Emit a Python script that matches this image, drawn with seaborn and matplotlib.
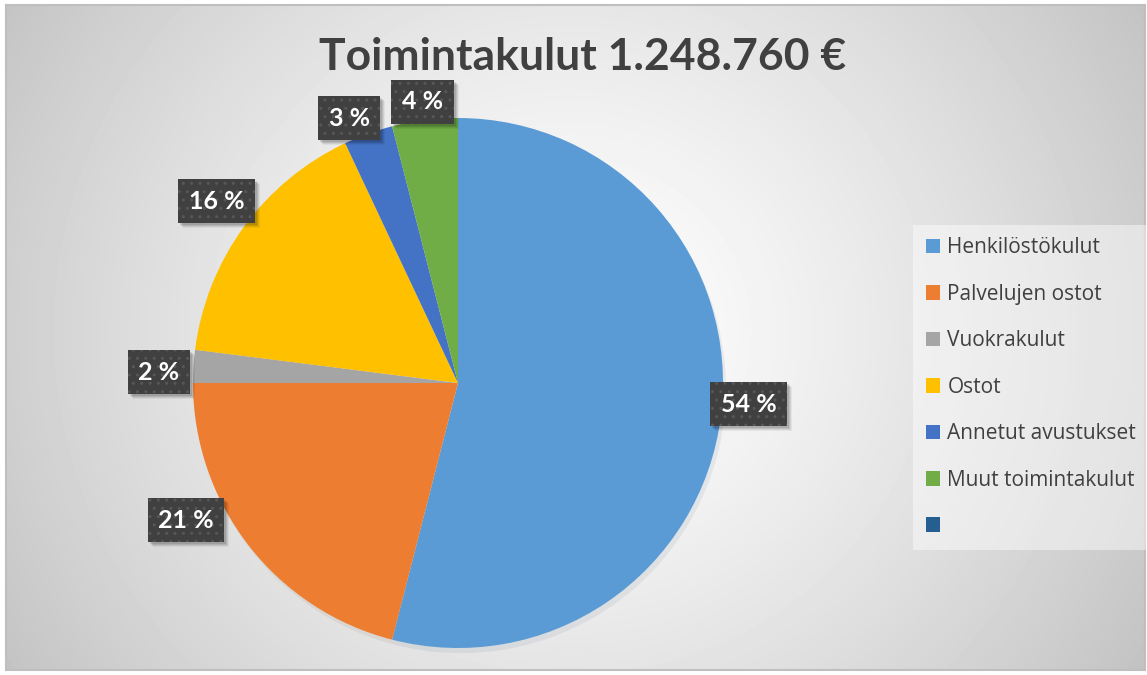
import numpy as np
import matplotlib
matplotlib.use("Agg")
import matplotlib.pyplot as plt
from matplotlib.patches import Patch, Rectangle
import seaborn as sns

# ---data---
categories = ["Henkilöstökulut", "Palvelujen ostot", "Vuokrakulut", "Ostot",
              "Annetut avustukset", "Muut toimintakulut"]
shares = [54, 21, 2, 16, 3, 4]
title = "Toimintakulut 1.248.760 €"
colors = ["#5B9BD5", "#ED7D31", "#A5A5A5", "#FFC000", "#4472C4", "#70AD47"]
extra_color = "#255E91"  # empty 7th legend entry

sns.set_theme(style="white")
plt.rcParams["font.family"] = ["Lato", "DejaVu Sans"]

W, H = 1147, 675
fig = plt.figure(figsize=(W / 100, H / 100), dpi=100)
fig.patch.set_facecolor("white")

# ---background with radial gradient inside the frame---
fl, ft, fr, fb = 6, 5, 1145, 670
bg = fig.add_axes([fl / W, 1 - fb / H, (fr - fl) / W, (fb - ft) / H])
yy, xx = np.mgrid[ft:fb, fl:fr]
d = np.hypot(xx - 570, (yy - 330) * 1.05) / 680
shade = 1 - 0.24 * d ** 1.3
bg.imshow(shade, cmap="gray", vmin=0, vmax=1, aspect="auto", interpolation="bilinear")
bg.set_xticks([])
bg.set_yticks([])
for s in bg.spines.values():
    s.set_color("#bfbfbf")
    s.set_linewidth(1.5)

# ---pie---
cx, cy, R = 458, 383, 265
L = 1.25
S = 2 * L * R
ax = fig.add_axes([(cx - S / 2) / W, 1 - (cy + S / 2) / H, S / W, S / H])
wedges, _ = ax.pie(shares, colors=colors, startangle=90, counterclock=False,
                   wedgeprops=dict(linewidth=0),
                   shadow=dict(ox=0.008, oy=-0.014, shade=0.5, alpha=0.08))
ax.set_xlim(-L, L)
ax.set_ylim(-L, L)
ax.set_aspect("equal")
ax.axis("off")

# data labels (Excel best-fit placement)
lab_r = [1.10, 1.15, 1.13, 1.14, 1.08, 1.07]
lab_da = [3, -11, 1.5, -1, 2.5, 0]
label_texts = []
for w, v, r, da in zip(wedges, shares, lab_r, lab_da):
    ang = np.deg2rad((w.theta1 + w.theta2) / 2 + da)
    t = ax.text(r * np.cos(ang), r * np.sin(ang), f"{v} %", ha="center", va="center",
                color="white", fontsize=18, fontweight="bold", zorder=5,
                bbox=dict(boxstyle="square,pad=0.42", fc="#404040", ec="#575757",
                          lw=0, hatch=".."))
    label_texts.append(t)

# ---title---
fig.text(583 / W, 1 - 57 / H, title, ha="center", va="center",
         fontsize=32, fontweight="bold", color="#404040")

# ---legend---
handles = [Patch(facecolor=c, edgecolor="none") for c in colors + [extra_color]]
labels = categories + [""]
leg = fig.legend(handles, labels, loc="upper left",
                 bbox_to_anchor=(913 / W, 1 - 225 / H), frameon=True,
                 prop=dict(family=["Open Sans", "DejaVu Sans"], size=15),
                 labelcolor="#404040", handlelength=0.7,
                 handleheight=0.7, handletextpad=0.35, labelspacing=1.22,
                 borderpad=0.6, borderaxespad=0, fancybox=False)
leg.get_frame().set_facecolor("white")
leg.get_frame().set_alpha(0.45)
leg.get_frame().set_linewidth(0)

# soft drop shadows behind the label boxes
fig.canvas.draw()
for t in label_texts:
    bb = t.get_bbox_patch().get_window_extent()
    for k, a in [(5, 0.05), (4, 0.07), (3, 0.09), (2, 0.1)]:
        ax.add_artist(Rectangle((bb.x0 + k, bb.y0 - k), bb.width, bb.height,
                                transform=None, fc="black", ec="none", alpha=a,
                                zorder=4, clip_on=False))

fig.savefig("out.png", dpi=100)
